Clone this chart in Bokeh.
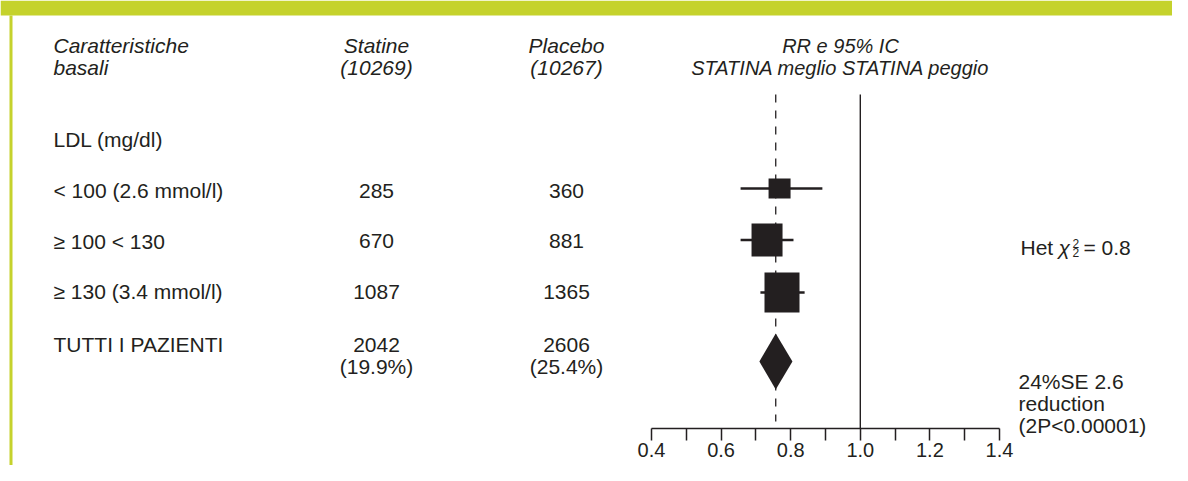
from bokeh.plotting import figure
from bokeh.models import Range1d, LinearAxis, FixedTicker, ColumnDataSource, PrintfTickFormatter
from bokeh.core.properties import value
from bokeh.embed import file_html
from bokeh.resources import INLINE

# ---- data ----
row_labels = ["< 100 (2.6 mmol/l)", "\u2265 100 < 130", "\u2265 130 (3.4 mmol/l)"]
statine = ["285", "670", "1087"]
placebo = ["360", "881", "1365"]
rr = [0.768, 0.732, 0.775]
ci_lo = [0.656, 0.656, 0.713]
ci_hi = [0.891, 0.808, 0.840]
box_w = [22, 31, 35]
box_h = [20, 33, 40]

total_label = "TUTTI I PAZIENTI"
total_statine = ["2042", "(19.9%)"]
total_placebo = ["2606", "(25.4%)"]
total_rr = 0.757
total_lo = 0.710
total_hi = 0.805

tick_values = [0.4, 0.6, 0.8, 1.0, 1.2, 1.4]
minor_values = [0.5, 0.7, 0.9, 1.1, 1.3]

# ---- layout helpers (pixel coordinates of the picture) ----
W, H = 1172, 465
X04, PXU = 651.0, 348.0  # pixel of RR=0.4, pixels per RR unit
def rr_at(px):
    return 0.4 + (px - X04) / PXU

FONT = value("Liberation Sans")
INK = "#231f20"
GREEN = "#c5d22c"
FS = "21px"

p = figure(width=W, height=H,
           x_range=Range1d(rr_at(0), rr_at(W)),
           y_range=Range1d(H, 0),
           x_axis_type=None, y_axis_type=None,
           output_backend="svg", toolbar_location=None,
           min_border=0, outline_line_color=None)
p.extra_x_ranges = {"px": Range1d(0, W)}
p.background_fill_color = "white"

# green frame: top band and left stripe
p.quad(left=[0], right=[W], top=[0], bottom=[15], x_range_name="px",
       fill_color=GREEN, line_color=None)
p.quad(left=[9], right=[12], top=[15], bottom=[H], x_range_name="px",
       fill_color=GREEN, line_color=None)

def txt(x, y, s, align="left", italic=False, size=FS):
    p.text(x=[x], y=[y], text=[s], x_range_name="px",
           text_font=FONT, text_font_size=size, text_color=INK,
           text_align=align, text_baseline="middle",
           text_font_style="italic" if italic else "normal")

# headers
col_stat, col_plac, col_rr = 376, 566, 840
txt(53, 45, "Caratteristiche", italic=True)
txt(53, 67, "basali", italic=True)
txt(col_stat, 45, "Statine", "center", True)
txt(col_stat, 67, "(10269)", "center", True)
txt(col_plac, 45, "Placebo", "center", True)
txt(col_plac, 67, "(10267)", "center", True)
txt(col_rr, 45, "RR e 95% IC", "center", True, "20px")
txt(col_rr, 67, "STATINA meglio STATINA peggio", "center", True, "20px")

txt(53, 139, "LDL (mg/dl)")

row_y = [190 + 50.5 * i for i in range(len(row_labels))]
for i, lab in enumerate(row_labels):
    txt(53, row_y[i], lab)
    txt(col_stat, row_y[i], statine[i], "center")
    txt(col_plac, row_y[i], placebo[i], "center")

ty = 344
txt(53, ty, total_label)
txt(col_stat, ty, total_statine[0], "center")
txt(col_stat, ty + 22, total_statine[1], "center")
txt(col_plac, ty, total_placebo[0], "center")
txt(col_plac, ty + 22, total_placebo[1], "center")

# Het chi^2
hy = 247
txt(1020, hy, "Het")
txt(1058, hy, "\u03c7", italic=True)
txt(1072, hy - 4, "2", size="12px")
txt(1072, hy + 5, "2", size="12px")
txt(1083, hy, "= 0.8")

txt(1018, 381, "24%SE 2.6")
txt(1018, 403, "reduction")
txt(1018, 425, "(2P<0.00001)")

# reference lines
p.segment(x0=[1.0], x1=[1.0], y0=[94], y1=[428], line_color=INK, line_width=1.4)
p.segment(x0=[total_rr], x1=[total_rr], y0=[94], y1=[421], line_color=INK,
          line_width=1.3, line_dash="8 8")

# CIs and boxes
src = ColumnDataSource(dict(y=[188, 239.5, 292], rr=rr, lo=ci_lo, hi=ci_hi, w=box_w, h=box_h))
p.segment(x0="lo", x1="hi", y0="y", y1="y", source=src, line_color=INK, line_width=2.6)
p.rect(x="rr", y="y", width="w", height="h", width_units="screen",
       height_units="screen", source=src, fill_color=INK, line_color=None)

# diamond for total
dy = 361
p.patch(x=[total_lo, total_rr, total_hi, total_rr],
        y=[dy, dy - 28, dy, dy + 28], fill_color=INK, line_color=None)

# RR axis
axis = LinearAxis(ticker=FixedTicker(ticks=tick_values, minor_ticks=minor_values),
                  formatter=PrintfTickFormatter(format="%.1f"),
                  bounds=(0.4, 1.4), fixed_location=428,
                  major_tick_in=0, major_tick_out=12, minor_tick_in=0, minor_tick_out=12,
                  axis_line_color=INK, major_tick_line_color=INK, minor_tick_line_color=INK,
                  axis_line_width=1.5, major_tick_line_width=1.5, minor_tick_line_width=1.5,
                  major_label_text_font="Liberation Sans", major_label_text_font_size="20px",
                  major_label_text_color=INK, major_label_standoff=2)
p.add_layout(axis, "below")

open("out.html", "w").write(file_html(p, INLINE))
